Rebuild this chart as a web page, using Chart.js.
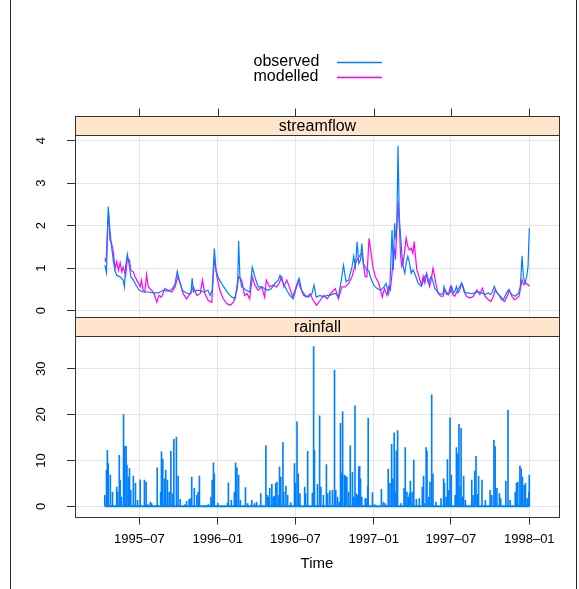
<!DOCTYPE html>
<html>
<head>
<meta charset="utf-8">
<script src="https://cdn.jsdelivr.net/npm/chart.js@4.4.1/dist/chart.umd.min.js"></script>
<style>
  html, body { margin: 0; padding: 0; background: #fff; }
  #wrap { position: relative; width: 579px; height: 589px; overflow: hidden; background: #fff; }
  #wrap canvas { position: absolute; left: 0; top: 0; }
  .edge { position: absolute; top: 0; bottom: 0; width: 1px; background: #222; }
</style>
</head>
<body>
<div id="wrap">
  <canvas id="flow" width="579" height="589"></canvas>
  <canvas id="rain" width="579" height="589"></canvas>
  <div class="edge" style="left:10px"></div>
  <div class="edge" style="left:576px"></div>
</div>
<script>
// Days are counted from 1995-01-01 (day 0).
const tickDays   = [181, 365, 547, 731, 912, 1096];
const tickLabels = ['1995–07', '1996–01', '1996–07', '1997–01', '1997–07', '1998–01'];
const flowTicks  = [0, 1, 2, 3, 4];
const rainTicks  = [0, 10, 20, 30];

// Streamflow (observed)
const obsDays = [100,104,108,112,116,120,124,128,136,143,146,149,153,158,161,167,175,181,190,202,214,226,237,249,259,265,270,275,282,288,296,302,305,308,316,324,331,342,347,352,357,361,367,374,382,390,398,406,412,414,417,421,428,
  432,440,446,452,460,468,475,483,491,499,507,511,515,519,527,534,542,550,556,562,570,578,586,591,596,605,613,621,629,637,642,648,655,660,666,672,680,684,688,692,696,700,703,707,711,715,719,723,731,739,747,755,760,766,
  769,774,777,780,782,785,788,791,794,797,800,804,807,811,815,819,823,827,831,835,843,851,855,859,866,870,874,882,890,894,896,902,910,914,918,921,925,929,933,937,941,945,953,961,969,976,984,992,1000,1004,1008,1014,1020,1028,1035,1043,1047,1055,1063,1071,1075,1079,1082,1086,1090,1093,1095,1096];
const obsFlow = [1.07,0.89,2.45,1.90,1.50,1.18,0.95,0.83,0.80,0.72,0.56,1.07,1.33,1.03,0.80,0.72,0.57,0.48,0.44,0.44,0.42,0.42,0.48,0.46,0.52,0.64,0.93,0.72,0.48,0.44,0.40,0.40,0.76,0.44,0.48,0.48,0.44,0.48,0.36,0.48,1.46,0.95,0.76,0.64,0.52,0.40,0.32,0.28,0.72,1.64,0.80,0.56,0.52,
  0.48,0.44,1.02,0.80,0.56,0.56,0.52,0.48,0.52,0.64,0.72,0.83,0.72,0.64,0.48,0.36,0.28,0.56,0.76,0.48,0.36,0.32,0.40,0.60,0.32,0.36,0.32,0.36,0.36,0.40,0.40,0.32,0.72,1.07,0.68,0.72,1.03,1.28,1.03,1.62,1.11,1.19,1.58,1.11,1.03,0.95,0.95,0.80,0.60,0.52,0.48,0.56,0.64,0.40,
  0.61,1.90,0.96,2.06,1.75,1.90,3.88,2.20,1.75,1.35,1.04,0.88,1.12,1.28,1.12,0.88,0.96,0.88,0.77,0.65,0.57,0.81,0.85,0.65,0.81,0.69,0.53,0.42,0.38,0.42,0.57,0.38,0.42,0.57,0.42,0.45,0.57,0.42,0.49,0.65,0.57,0.42,0.42,0.40,0.42,0.45,0.42,0.38,0.42,0.38,0.42,0.57,0.42,0.34,0.26,0.42,0.49,0.38,0.34,0.42,0.57,1.29,0.81,0.65,0.81,1.04,1.04,1.94];

// Streamflow (modelled)
const modDays = [100,103,107,109,112,116,120,124,128,132,136,140,143,149,153,158,161,167,171,175,179,183,186,190,194,198,202,210,216,222,227,233,241,249,257,265,271,277,284,292,300,308,316,324,329,335,343,351,357,363,370,378,386,394,402,410,414,421,428,
  434,440,446,452,460,468,475,479,487,495,503,509,515,520,527,533,541,546,554,558,566,574,582,589,597,605,613,622,629,641,648,656,664,672,680,688,696,703,711,715,720,725,729,735,743,751,756,762,
  766,770,774,777,780,782,785,788,791,794,797,800,804,807,811,815,819,823,826,829,832,835,839,843,847,851,855,859,862,866,870,874,878,882,888,894,898,906,911,916,921,928,933,937,943,949,957,965,969,973,980,986,992,1000,1006,1012,1016,1024,1031,1038,1046,1049,1055,1061,1067,1072,1079,1083,1088,1093,1096];
const modFlow = [1.23,1.15,2.06,2.29,1.66,1.58,1.39,0.99,1.15,0.95,1.13,0.91,1.03,0.83,1.23,1.19,0.95,0.91,0.80,0.72,0.64,0.56,0.72,0.48,0.44,0.85,0.56,0.48,0.40,0.20,0.36,0.32,0.52,0.48,0.44,0.56,0.80,0.64,0.40,0.28,0.40,0.56,0.36,0.40,0.72,0.40,0.24,0.20,1.23,0.80,0.48,0.28,0.17,0.13,0.20,0.48,0.80,0.72,0.36,
  0.40,0.28,0.80,0.60,0.48,0.56,0.32,0.72,0.56,0.60,0.56,0.64,0.80,0.56,0.72,0.56,0.32,0.48,0.72,0.56,0.36,0.32,0.40,0.24,0.13,0.24,0.36,0.28,0.40,0.52,0.28,0.56,0.56,0.64,0.80,1.11,1.27,1.35,0.80,0.80,1.70,1.35,1.03,0.80,0.64,0.32,0.52,0.36,
  0.57,0.49,0.88,1.28,1.43,1.20,1.90,2.57,2.06,1.28,1.04,1.12,1.43,1.71,1.51,1.43,1.47,1.35,1.63,1.28,0.96,0.88,0.73,0.61,0.81,0.65,0.88,0.73,0.57,0.73,1.00,0.81,0.57,0.42,0.34,0.34,0.49,0.38,0.57,0.38,0.34,0.49,0.57,0.65,0.45,0.34,0.30,0.34,0.42,0.49,0.38,0.53,0.34,0.26,0.22,0.34,0.49,0.38,0.26,0.22,0.38,0.49,0.34,0.26,0.30,0.34,0.73,0.61,0.65,0.61,0.57];

// Daily rainfall (rain days only; every other day is zero)
const rainDays = [100,104,106,108,113,118,128,130,134,136,139,144,147,150,152,155,158,161,167,172,177,183,193,197,201,207,210,223,231,233,236,240,243,247,251,255,259,262,268,272,277,288,292,298,302,304,310,316,319,322,335,343,349,352,355,357,365,388,390,397,404,407,410,414,418,430,435,445,451,456,466,478,481,484,487,492,495,498,501,504,508,510,513,518,520,525,529,536,545,547,551,554,558,569,571,576,587,590,592,
  599,604,607,613,620,623,628,634,639,642,646,650,653,656,658,662,665,668,672,676,681,684,687,690,693,696,698,700,703,711,715,717,718,728,733,749,754,758,765,769,773,776,779,782,784,787,795,802,805,809,812,815,817,821,825,831,838,845,848,850,854,856,860,863,867,870,877,889,895,897,901,904,907,910,913,922,925,928,931,933,936,939,942,946,961,964,968,971,974,977,985,993,1004,1008,1013,1016,1020,1026,1029,1041,1046,1051,1063,1066,1069,1074,1077,1080,1084,1087,1091,1095,1096];
const rainMm = [2.4,7.9,12.2,9.3,6.8,3.1,4.2,3.1,11.1,5.7,2.0,20.0,13.0,13.1,9.0,6.4,8.2,3.5,6.6,5.0,1.3,5.8,5.7,5.3,0.4,0.9,0.6,8.4,3.1,11.9,10.3,6.0,7.9,5.7,3.1,12.0,2.8,14.6,15.1,6.6,1.5,0.4,1.1,1.5,1.7,6.4,3.9,2.4,3.1,6.6,0.2,0.4,2.0,5.7,9.5,7.1,0.7,0.7,5.1,1.3,3.1,9.5,8.4,6.8,1.3,4.1,0.6,1.3,0.6,0.9,2.8,13.2,2.4,2.0,3.9,4.8,2.0,2.2,5.0,5.3,2.4,8.6,6.4,13.9,3.1,4.4,2.4,0.8,9.3,5.0,18.4,7.1,2.8,4.2,2.8,12.0,2.9,34.8,12.2,
  4.8,19.7,4.2,2.4,9.1,2.8,3.4,3.5,29.7,3.5,2.0,0.9,18.1,7.3,20.6,6.8,6.6,6.4,3.1,13.2,7.4,2.0,21.9,2.8,2.4,8.6,8.7,6.0,2.0,1.7,1.7,4.4,19.2,3.0,0.4,3.7,0.9,0.6,8.1,5.0,13.5,6.0,16.0,3.1,12.1,16.5,0.6,3.9,12.8,3.1,2.0,2.8,5.5,3.1,10.1,1.5,1.7,4.2,6.6,0.6,12.8,12.0,2.0,5.3,24.3,7.1,0.9,1.7,6.0,5.0,2.0,10.2,3.5,19.3,6.8,2.4,12.8,11.5,17.9,4.2,17.0,2.0,6.6,1.3,5.7,2.4,7.7,10.9,2.6,6.6,5.7,1.3,3.5,2.4,14.4,13.0,3.9,2.8,1.7,5.5,21.0,1.3,3.1,5.0,5.3,8.8,8.2,6.4,4.6,5.0,1.7,3.1,6.8];

const FONT = '"Liberation Sans", Arial, Helvetica, sans-serif';
Chart.defaults.font.family = FONT;
Chart.defaults.color = '#000';

const BLUE = '#0080ff';
const MAGENTA = '#ff00ff';
const GRID = '#e6e6e6';
const INK = '#333';

const toPoints = (xs, ys) => xs.map((x, i) => ({ x, y: ys[i] }));

// lattice-style panel furniture: box, strip with title, rotated y labels, top ticks, key
const panelDeco = {
  id: 'panelDeco',
  afterDraw(chart, args, o) {
    const { ctx, chartArea: a, scales } = chart;
    const L = Math.round(a.left) + 0.5, R = Math.round(a.right) + 0.5;
    const T = Math.round(a.top) + 0.5, B = Math.round(a.bottom) + 0.5;
    const sTop = Math.round(a.top - o.stripHeight) + 0.5;
    ctx.save();
    ctx.lineWidth = 1;
    ctx.strokeStyle = INK;
    ctx.strokeRect(L, T, R - L, B - T);
    ctx.fillStyle = '#ffe5cc';
    ctx.fillRect(L, sTop, R - L, T - sTop);
    ctx.strokeRect(L, sTop, R - L, T - sTop);
    ctx.fillStyle = '#000';
    ctx.font = '16px ' + FONT;
    ctx.textAlign = 'center';
    ctx.textBaseline = 'middle';
    ctx.fillText(o.text, (L + R) / 2, (sTop + T) / 2 + 0.5);

    // y tick labels, written sideways
    const ys = scales.y;
    ctx.font = '13px ' + FONT;
    ys.ticks.forEach(t => {
      const py = ys.getPixelForValue(t.value);
      ctx.save();
      ctx.translate(o.labelX, py);
      ctx.rotate(-Math.PI / 2);
      ctx.fillText(String(t.value), 0, 0);
      ctx.restore();
    });

    if (o.topTicks) {
      const xs = scales.x;
      ctx.beginPath();
      xs.ticks.forEach(t => {
        const px = Math.round(xs.getPixelForValue(t.value)) + 0.5;
        ctx.moveTo(px, sTop);
        ctx.lineTo(px, sTop - 8);
      });
      ctx.stroke();
    }

    if (o.key) {
      ctx.textAlign = 'left';
      ctx.font = '16px ' + FONT;
      chart.data.datasets.forEach((ds, i) => {
        const y = o.key.y + i * o.key.step;
        ctx.fillStyle = '#000';
        ctx.fillText(ds.label, o.key.textX, y);
        ctx.strokeStyle = ds.borderColor;
        ctx.lineWidth = 1.3;
        ctx.beginPath();
        ctx.moveTo(o.key.lineX0, y + 0.5);
        ctx.lineTo(o.key.lineX1, y + 0.5);
        ctx.stroke();
      });
    }
    ctx.restore();
  }
};

const xRange = { min: 30.1, max: 1165.7 };

new Chart(document.getElementById('flow'), {
  type: 'line',
  data: {
    datasets: [
      { label: 'observed', data: toPoints(obsDays, obsFlow), borderColor: BLUE, borderWidth: 1.2, pointRadius: 0, tension: 0 },
      { label: 'modelled', data: toPoints(modDays, modFlow), borderColor: MAGENTA, borderWidth: 1.2, pointRadius: 0, tension: 0 }
    ]
  },
  options: {
    responsive: false, animation: false, events: [],
    layout: { padding: { left: 55, right: 20, top: 135, bottom: 272 } },
    plugins: {
      legend: { display: false }, tooltip: { enabled: false },
      panelDeco: { text: 'streamflow', stripHeight: 19.5, labelX: 41.5, topTicks: true,
                   key: { textX: 253.5, lineX0: 337, lineX1: 382, y: 62, step: 15 } }
    },
    scales: {
      x: {
        type: 'linear', min: xRange.min, max: xRange.max,
        afterBuildTicks: s => { s.ticks = tickDays.map(v => ({ value: v })); },
        afterFit: s => { s.height = 0; },
        ticks: { display: false },
        grid: { color: GRID, lineWidth: 1, drawTicks: false },
        border: { display: false }
      },
      y: {
        min: -0.148, max: 4.134,
        afterBuildTicks: s => { s.ticks = flowTicks.map(v => ({ value: v })); },
        afterFit: s => { s.width = 20; },
        ticks: { display: false },
        grid: { color: GRID, lineWidth: 1, drawTicks: true, tickLength: 8, tickColor: INK },
        border: { display: false }
      }
    }
  },
  plugins: [panelDeco]
});

new Chart(document.getElementById('rain'), {
  type: 'bar',
  data: {
    datasets: [
      { label: 'rainfall', data: toPoints(rainDays, rainMm), backgroundColor: BLUE, borderWidth: 0, barThickness: 1, grouped: false },
      { type: 'line', label: 'dry days',
        data: [{ x: obsDays[0], y: 0 }, { x: obsDays[obsDays.length - 1], y: 0 }],
        borderColor: BLUE, borderWidth: 2, pointRadius: 0 }
    ]
  },
  options: {
    responsive: false, animation: false, events: [],
    layout: { padding: { left: 55, right: 20, top: 336, bottom: 15.7 } },
    plugins: {
      legend: { display: false }, tooltip: { enabled: false },
      panelDeco: { text: 'rainfall', stripHeight: 19, labelX: 41.5, topTicks: false }
    },
    scales: {
      x: {
        type: 'linear', min: xRange.min, max: xRange.max, offset: false,
        afterBuildTicks: s => { s.ticks = tickDays.map(v => ({ value: v })); },
        afterFit: s => { s.height = 56.8; },
        ticks: { font: { size: 13 }, color: '#000', padding: 7, maxRotation: 0, autoSkip: false,
                 callback: (v, i) => tickLabels[i] },
        grid: { color: GRID, lineWidth: 1, drawTicks: true, tickLength: 8, tickColor: INK, offset: false },
        border: { display: false },
        title: { display: true, text: 'Time', font: { size: 15 }, color: '#000', padding: { top: 0, bottom: 0 } }
      },
      y: {
        min: -2.22, max: 37.13,
        afterBuildTicks: s => { s.ticks = rainTicks.map(v => ({ value: v })); },
        afterFit: s => { s.width = 20; },
        ticks: { display: false },
        grid: { color: GRID, lineWidth: 1, drawTicks: true, tickLength: 8, tickColor: INK },
        border: { display: false }
      }
    }
  },
  plugins: [panelDeco]
});
</script>
</body>
</html>
